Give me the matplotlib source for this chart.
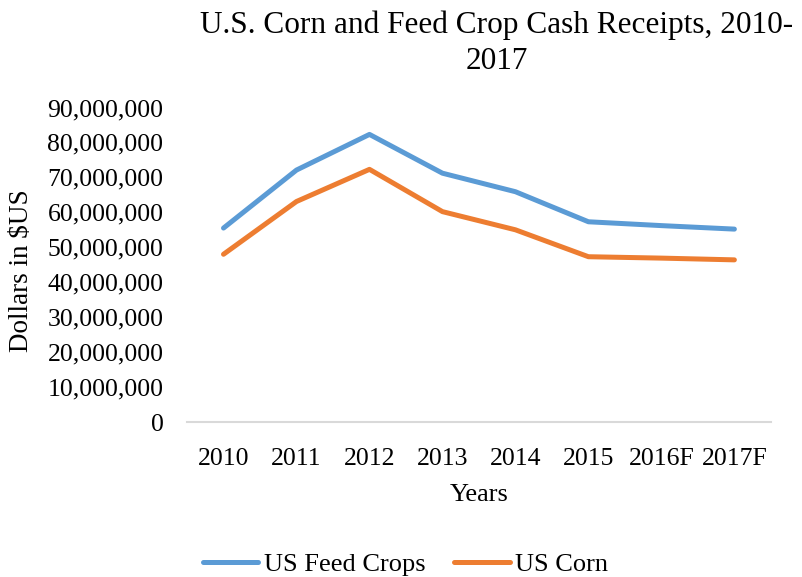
import matplotlib.pyplot as plt
from matplotlib.ticker import FuncFormatter

years = ['2010', '2011', '2012', '2013', '2014', '2015', '2016F', '2017F']
feed_crops = [55.5e6, 72.1e6, 82.3e6, 71.2e6, 65.9e6, 57.3e6, 56.2e6, 55.2e6]
corn = [48.0e6, 63.1e6, 72.3e6, 60.2e6, 55.0e6, 47.3e6, 46.9e6, 46.4e6]

plt.rcParams['font.family'] = ['Liberation Serif', 'DejaVu Serif']

fig = plt.figure(figsize=(8.03, 5.77), dpi=100)
ax = fig.add_axes([0.2329, 0.2686, 0.7271, 0.5451])

x = range(len(years))
ax.plot(x, feed_crops, color='#5B9BD5', linewidth=3.6, label='US Feed Crops',
        solid_capstyle='round', solid_joinstyle='round')
ax.plot(x, corn, color='#ED7D31', linewidth=3.6, label='US Corn',
        solid_capstyle='round', solid_joinstyle='round')

ax.set_xlim(-0.5, len(years) - 0.5)
ax.set_ylim(0, 90e6)
ax.set_yticks(range(0, 90000001, 10000000))
ax.yaxis.set_major_formatter(FuncFormatter(lambda v, p: f'{int(v):,}'))
ax.set_xticks(list(x))
ax.set_xticklabels(years)
ax.tick_params(axis='both', length=0, labelsize=18.5, colors='black')
ax.tick_params(axis='x', pad=19)
ax.tick_params(axis='y', pad=17)

for side in ['top', 'right', 'left']:
    ax.spines[side].set_visible(False)
ax.spines['bottom'].set_color('#D9D9D9')
ax.spines['bottom'].set_linewidth(1.5)

ax.set_xlabel('Years', fontsize=19, labelpad=10)
fig.text(22 / 803, 1 - 271 / 577, 'Dollars in \\$US', rotation=90,
         ha='center', va='center', fontsize=19.5)
fig.text(0.619, 0.925, 'U.S. Corn and Feed Crop Cash Receipts, 2010-\n2017',
         ha='center', va='center', fontsize=22.5, linespacing=1.32)

fig.legend(loc='center', bbox_to_anchor=(0.505, 1 - 564 / 577), ncol=2, frameon=False,
           fontsize=19, handlelength=2.1, columnspacing=1.1, handletextpad=0.2)

plt.savefig('out.png', dpi=100)
